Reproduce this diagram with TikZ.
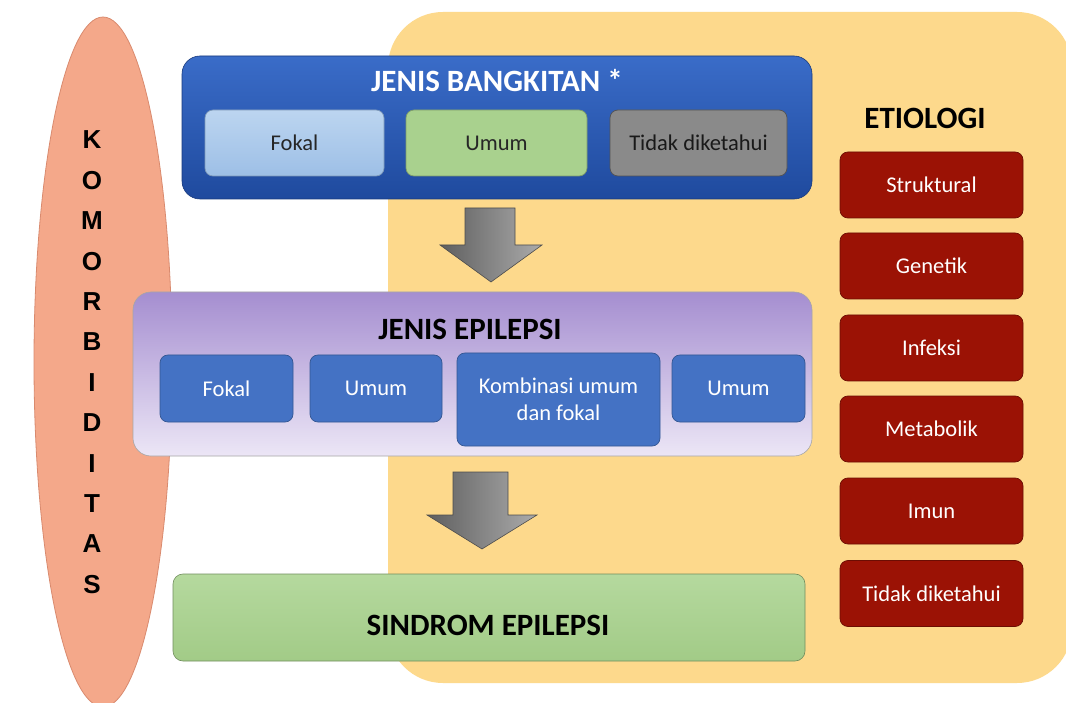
\documentclass[tikz,border=0pt]{standalone}
\usepackage{fontspec}
\setmainfont{Carlito}
\newfontfamily\komfont{Liberation Sans}
\usetikzlibrary{shapes.geometric}
\definecolor{orangebg}{HTML}{FDD98C}
\definecolor{komfill}{HTML}{F4A88A}
\definecolor{komdraw}{HTML}{D98A6E}
\definecolor{bluetop}{HTML}{3A6CC8}
\definecolor{bluebot}{HTML}{1F4A9E}
\definecolor{ltbluetop}{HTML}{BCD5F0}
\definecolor{ltbluebot}{HTML}{9DBFE6}
\definecolor{grn}{HTML}{A9D18E}
\definecolor{grntop}{HTML}{B5D99E}
\definecolor{grnbot}{HTML}{A2CB87}
\definecolor{gry}{HTML}{8A8A8A}
\definecolor{purtop}{HTML}{A58ED0}
\definecolor{purbot}{HTML}{ECE6F6}
\definecolor{pursub}{HTML}{4472C4}
\definecolor{redbox}{HTML}{9B1205}
\definecolor{arrdark}{HTML}{5F5F5F}
\definecolor{arrlight}{HTML}{ABABAB}
\begin{document}
\begin{tikzpicture}[x=1pt,y=-1pt,
  every node/.style={inner sep=0pt, outer sep=0pt},
  titletext/.style={font=\bfseries\fontsize{31}{36}\selectfont},
  subtext/.style={font=\fontsize{22.5}{28}\selectfont},
  subbox/.style={rounded corners=8pt, line width=0.7pt, minimum height=66pt},
  redstyle/.style={subbox, fill=redbox, draw=redbox!70!black, text=white, minimum width=183pt, subtext},
  pursubstyle/.style={subbox, fill=pursub, draw=pursub!75!black, text=white, subtext},
  letter/.style={font=\komfont\bfseries\fontsize{26}{28}\selectfont, text=black},
  blockarrow/.style={left color=arrdark, right color=arrlight, draw=arrdark!80!black, line width=0.6pt}
]
\useasboundingbox (0,0) rectangle (1066,703);
\fill[white] (0,0) rectangle (1066,703);

% etiology background
\node[fill=orangebg, rounded corners=55pt, minimum width=684pt, minimum height=671pt] (etbg) at (730,347.5) {};

% komorbiditas ellipse
\node[ellipse, fill=komfill, draw=komdraw, line width=0.8pt, minimum width=138pt, minimum height=690pt] (kom) at (103,362) {};
\foreach \L [count=\i from 0] in {K,O,M,O,R,B,I,D,I,T,A,S}
  \node[letter] (kl\i) at (92,{140+\i*40.4}) {\L};

% jenis bangkitan
\node[rounded corners=18pt, top color=bluetop, bottom color=bluebot, draw=bluebot!80!black, line width=0.6pt, minimum width=630pt, minimum height=143pt] (jb) at (497,127.5) {};
\node[titletext, text=white] (jbt) at (497,81) {JENIS BANGKITAN *};
\node[subbox, top color=ltbluetop, bottom color=ltbluebot, draw=ltbluebot!80!black, minimum width=179pt, subtext, text=black!85] (jb1) at (294.5,143) {Fokal};
\node[subbox, fill=grn, draw=grn!75!black, minimum width=181pt, subtext, text=black!85] (jb2) at (496.5,143) {Umum};
\node[subbox, fill=gry, draw=gry!60!black, minimum width=177pt, subtext, text=black!90] (jb3) at (698.5,143) {Tidak diketahui};

% arrow 1
\path[blockarrow] (465,208) -- (515,208) -- (515,245) -- (542,245) -- (491,282) -- (440,245) -- (465,245) -- cycle;

% jenis epilepsi
\node[rounded corners=18pt, top color=purtop, bottom color=purbot, draw=gray!70, line width=0.6pt, minimum width=679pt, minimum height=164pt] (je) at (472.5,374) {};
\node[titletext, text=black] (jet) at (470,329) {JENIS EPILEPSI};
\node[pursubstyle, minimum width=133pt, minimum height=67pt] (je1) at (226.5,388.5) {Fokal};
\node[pursubstyle, minimum width=132pt, minimum height=67pt] (je2) at (376,388.5) {Umum};
\node[pursubstyle, minimum width=203pt, minimum height=93pt] (je3) at (558.5,399.5) {};
\node[subtext, text=white, align=center] (je3t) at (558.5,399) {Kombinasi umum\\[-1pt]dan fokal};
\node[pursubstyle, minimum width=133pt, minimum height=67pt] (je4) at (738.5,388.5) {Umum};

% arrow 2
\path[blockarrow] (453,472) -- (508,472) -- (508,515) -- (537,515) -- (482,549) -- (427,515) -- (453,515) -- cycle;

% sindrom epilepsi
\node[rounded corners=10pt, top color=grntop, bottom color=grnbot, draw=grnbot!70!black, line width=0.6pt, minimum width=632pt, minimum height=87pt] (se) at (489,617.5) {};
\node[titletext, text=black] (set) at (488,625) {SINDROM EPILEPSI};

% etiologi
\node[titletext, text=black] (et) at (925,118) {ETIOLOGI};
\node[redstyle] (r1) at (931.5,185) {Struktural};
\node[redstyle] (r2) at (931.5,266) {Genetik};
\node[redstyle] (r3) at (931.5,348) {Infeksi};
\node[redstyle] (r4) at (931.5,429) {Metabolik};
\node[redstyle] (r5) at (931.5,511) {Imun};
\node[redstyle] (r6) at (931.5,593.5) {Tidak diketahui};
\end{tikzpicture}
\end{document}
